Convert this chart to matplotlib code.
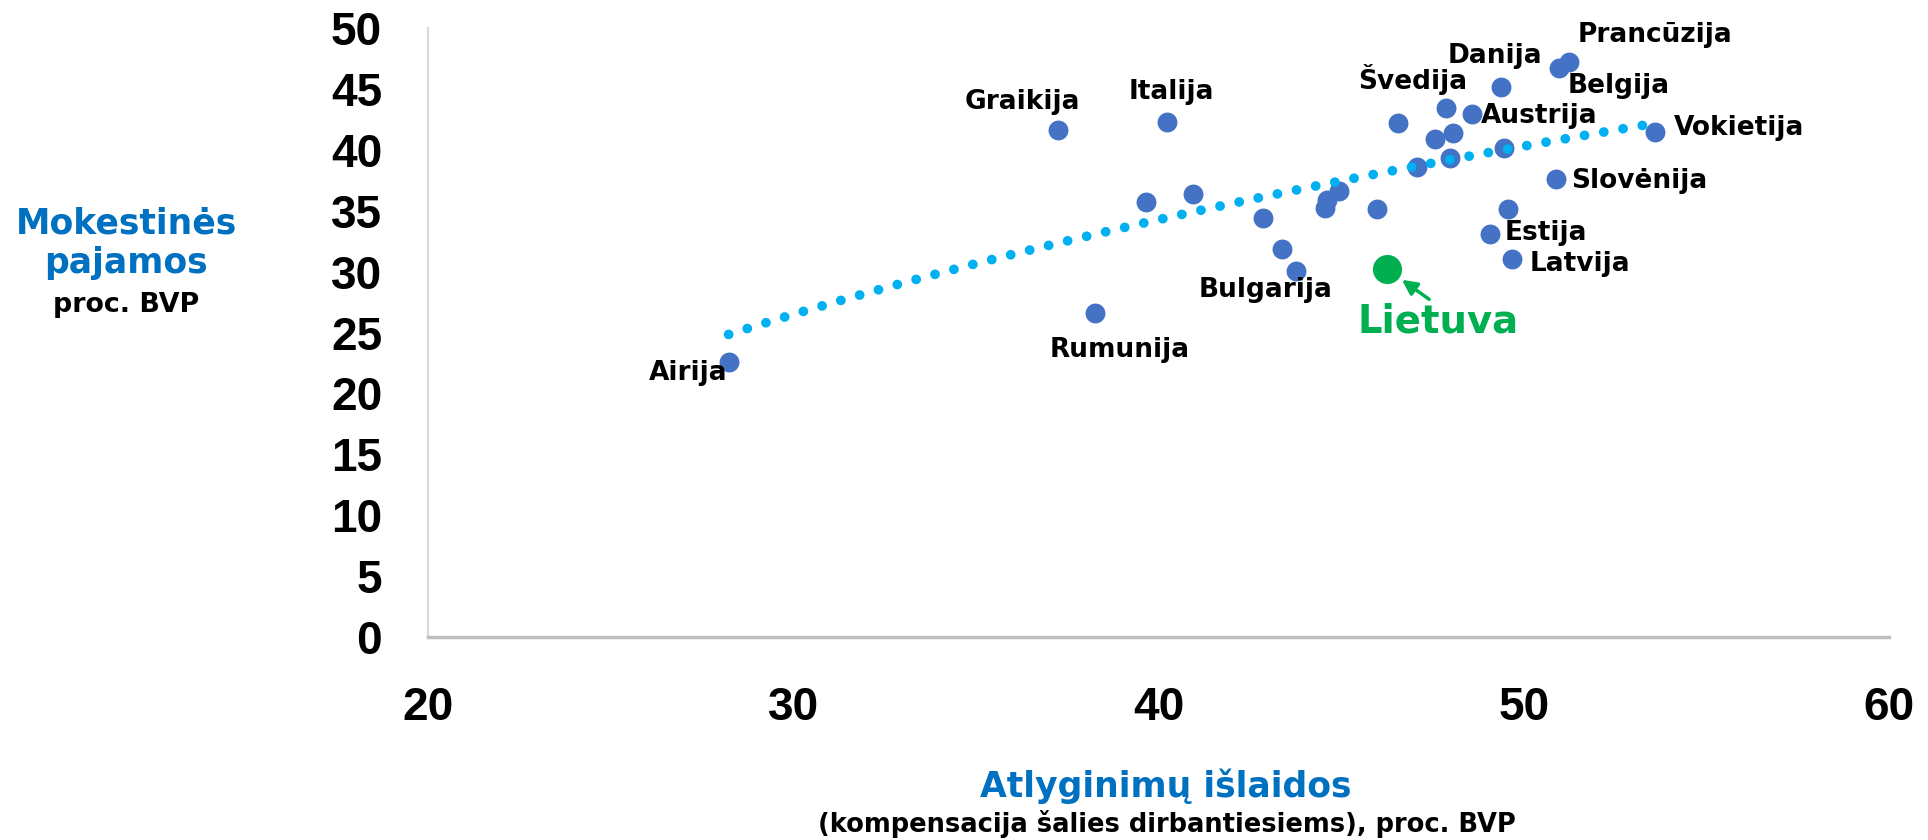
import numpy as np
import matplotlib.pyplot as plt

# Values
# x: wage costs (compensation of employees), % of GDP ; y: tax revenue, % of GDP
countries = ['Airija', 'Graikija', 'Rumunija', '', 'Italija', '', '', '',
             'Bulgarija', '', '', '', '', '', '', '', 'Švedija', '', '',
             'Austrija', 'Estija', 'Danija', '', '', 'Latvija', 'Slovėnija',
             'Belgija', 'Prancūzija', 'Vokietija']
wage_share = [28.23, 37.26, 38.25, 39.66, 40.23, 40.95, 42.86, 43.37,
              43.76, 44.56, 44.61, 44.95, 45.98, 46.57, 47.08, 47.58, 47.87, 47.97, 48.07,
              48.57, 49.07, 49.39, 49.47, 49.57, 49.68, 50.87,
              50.97, 51.24, 53.59]
tax_revenue = [22.55, 41.63, 26.63, 35.74, 42.30, 36.34, 34.43, 31.86,
               30.08, 35.20, 35.88, 36.62, 35.12, 42.18, 38.56, 40.86, 43.46, 39.35, 41.35,
               42.94, 33.06, 45.13, 40.17, 35.14, 31.03, 37.58,
               46.69, 47.18, 41.44]

lt_name = 'Lietuva'
lt_wage = 46.26
lt_tax = 30.19

# label offsets from the point, in pixels (dx right, dy up to baseline)
label_offsets = {
    'Airija': (-40, -18), 'Graikija': (-36, 21), 'Rumunija': (25, -44),
    'Italija': (4, 23), 'Bulgarija': (-30, -26), 'Švedija': (-33, 19),
    'Austrija': (68, -9), 'Estija': (56, -6), 'Danija': (-7, 24),
    'Latvija': (68, -12), 'Slovėnija': (84, -9), 'Belgija': (60, -25),
    'Prancūzija': (86, 20), 'Vokietija': (84, -3),
}

blue = '#4472C4'
green = '#00B050'
title_blue = '#0070C0'
px = 0.72  # pixels -> points at dpi 100

fig = plt.figure(figsize=(19.28, 8.4), dpi=100)
ax = fig.add_axes([428 / 1928, 203 / 840, 1461 / 1928, 609 / 840])

ax.scatter(wage_share, tax_revenue, s=205, color=blue, zorder=2, linewidths=0)
ax.scatter([lt_wage], [lt_tax], s=440, color=green, zorder=2, linewidths=0)

# logarithmic trend line, like Excel's
coef = np.polyfit(np.log(wage_share), tax_revenue, 1)
xs = np.linspace(min(wage_share), max(wage_share), 200)
ax.plot(xs, coef[0] * np.log(xs) + coef[1], color='#00B0F0', lw=7,
        linestyle=(0, (0.01, 2.0)), dash_capstyle='round', zorder=3)

for name, x, y in zip(countries, wage_share, tax_revenue):
    if not name:
        continue
    dx, dy = label_offsets[name]
    ax.annotate(name, (x, y), xytext=(dx * px, dy * px), textcoords='offset points',
                ha='center', va='baseline', fontsize=19, fontweight='bold',
                family='DejaVu Sans', color='black', zorder=4)

ax.annotate(lt_name, (lt_wage, lt_tax), xytext=(51 * px, -63 * px), textcoords='offset points',
            ha='center', va='baseline', fontsize=27.8, fontweight='bold',
            family='DejaVu Sans', color=green, zorder=4)
ax.annotate('', (lt_wage, lt_tax), xytext=(42 * px, -30 * px), textcoords='offset points',
            arrowprops=dict(arrowstyle='-|>', color=green, lw=2.5, shrinkA=0, shrinkB=13,
                            mutation_scale=22), zorder=4)

ax.set_xlim(20, 60)
ax.set_ylim(0, 50)
ax.set_xticks([20, 30, 40, 50, 60])
ax.set_yticks(range(0, 51, 5))
ax.tick_params(length=0)
ax.tick_params(axis='y', pad=33)
ax.tick_params(axis='x', pad=35)
for lab in ax.get_xticklabels() + ax.get_yticklabels():
    lab.set_family('Liberation Sans')
    lab.set_fontweight('bold')
    lab.set_fontsize(33)

for side in ['top', 'right']:
    ax.spines[side].set_visible(False)
ax.spines['left'].set_color('#D9D9D9')
ax.spines['left'].set_linewidth(1.5)
ax.spines['bottom'].set_color('#BFBFBF')
ax.spines['bottom'].set_linewidth(2.5)

# axis titles
fig.text(126 / 1928, 1 - 233 / 840, 'Mokestinės', ha='center', va='baseline',
         fontsize=24.9, fontweight='bold', color=title_blue, family='DejaVu Sans')
fig.text(126 / 1928, 1 - 273 / 840, 'pajamos', ha='center', va='baseline',
         fontsize=24.9, fontweight='bold', color=title_blue, family='DejaVu Sans')
fig.text(126 / 1928, 1 - 312 / 840, 'proc. BVP', ha='center', va='baseline',
         fontsize=19.4, fontweight='bold', color='black', family='DejaVu Sans')
fig.text(1166 / 1928, 1 - 797 / 840, 'Atlyginimų išlaidos', ha='center', va='baseline',
         fontsize=24.9, fontweight='bold', color=title_blue, family='DejaVu Sans')
fig.text(1167 / 1928, 1 - 832 / 840, '(kompensacija šalies dirbantiesiems), proc. BVP',
         ha='center', va='baseline', fontsize=18.5, fontweight='bold', color='black',
         family='DejaVu Sans')

fig.savefig('out.png', dpi=100)
